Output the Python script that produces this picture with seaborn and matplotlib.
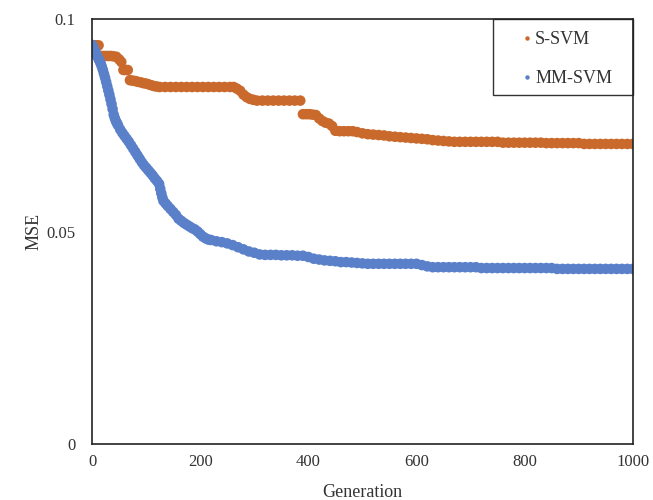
import seaborn as sns
import matplotlib.pyplot as plt
from matplotlib.patches import Rectangle
import numpy as np
import pandas as pd

# S-SVM (orange)
gen_s = [0, 4, 8, 12, 15, 20, 25, 30, 35, 40, 45, 50, 54, 58, 62, 66, 70, 75, 80, 85,
         90, 95, 100, 105, 110, 115, 120, 125, 135, 145, 155, 165, 175, 185, 195, 205,
         215, 225, 235, 245, 255, 262, 268, 274, 280, 286, 292, 298, 305, 315, 325, 335,
         345, 355, 365, 375, 385, 390, 396, 402, 408, 414, 420, 426, 432, 438, 444, 450,
         458, 466, 474, 482, 490, 500, 510, 520, 530, 540, 550, 560, 570, 580, 590, 600,
         610, 620, 630, 640, 650, 660, 670, 680, 690, 700, 710, 720, 730, 740, 750, 760,
         770, 780, 790, 800, 810, 820, 830, 840, 850, 860, 870, 880, 890, 900, 910, 920,
         930, 940, 950, 960, 970, 980, 990, 1000]
mse_s = [0.0938, 0.0938, 0.0938, 0.0938, 0.0913, 0.0913, 0.0913, 0.0913, 0.0913, 0.0912,
         0.0911, 0.0905, 0.0899, 0.0880, 0.0880, 0.0880, 0.0856, 0.0855, 0.0854, 0.0852,
         0.0851, 0.0849, 0.0848, 0.0846, 0.0844, 0.0842, 0.0841, 0.0840, 0.0840, 0.0840,
         0.0840, 0.0840, 0.0840, 0.0840, 0.0840, 0.0840, 0.0840, 0.0840, 0.0840, 0.0840,
         0.0840, 0.0840, 0.0836, 0.0831, 0.0822, 0.0816, 0.0812, 0.0810, 0.0808, 0.0808,
         0.0808, 0.0808, 0.0808, 0.0808, 0.0808, 0.0808, 0.0808, 0.0776, 0.0776, 0.0776,
         0.0775, 0.0774, 0.0766, 0.0760, 0.0756, 0.0754, 0.0748, 0.0737, 0.0736, 0.0736,
         0.0736, 0.0736, 0.0734, 0.0731, 0.0729, 0.0728, 0.0727, 0.0726, 0.0724, 0.0723,
         0.0722, 0.0721, 0.0720, 0.0719, 0.0718, 0.0717, 0.0715, 0.0714, 0.0713, 0.0712,
         0.0711, 0.0711, 0.0711, 0.0711, 0.0711, 0.0711, 0.0711, 0.0711, 0.0711, 0.0709,
         0.0709, 0.0709, 0.0709, 0.0709, 0.0709, 0.0709, 0.0709, 0.0708, 0.0708, 0.0708,
         0.0708, 0.0708, 0.0708, 0.0708, 0.0706, 0.0706, 0.0706, 0.0706, 0.0706, 0.0706,
         0.0706, 0.0706, 0.0706, 0.0706]

# MM-SVM (blue)
gen_m = [0, 2, 4, 6, 8, 10, 12, 14, 16, 18, 20, 22, 24, 26, 28, 30, 32, 34, 36, 38,
         40, 42, 44, 46, 48, 52, 56, 60, 64, 68, 72, 76, 80, 84, 88, 92, 96, 100, 104,
         108, 112, 116, 120, 124, 126, 128, 130, 132, 136, 140, 145, 150, 155, 160, 165,
         170, 175, 180, 185, 190, 195, 200, 205, 210, 215, 220, 230, 240, 250, 260, 270,
         280, 290, 300, 310, 320, 330, 340, 350, 360, 370, 380, 390, 400, 410, 420, 430,
         440, 450, 460, 470, 480, 490, 500, 510, 520, 530, 540, 550, 560, 570, 580, 590,
         600, 610, 620, 630, 640, 650, 660, 670, 680, 690, 700, 710, 720, 730, 740, 750,
         760, 770, 780, 790, 800, 810, 820, 830, 840, 850, 860, 870, 880, 890, 900, 910,
         920, 930, 940, 950, 960, 970, 980, 990, 1000]
mse_m = [0.0939, 0.0934, 0.0928, 0.0923, 0.0917, 0.0912, 0.0906, 0.0901, 0.0895, 0.0888,
         0.0880, 0.0871, 0.0862, 0.0852, 0.0842, 0.0832, 0.0822, 0.0811, 0.0800, 0.0788,
         0.0775, 0.0767, 0.0760, 0.0755, 0.0750, 0.0740, 0.0732, 0.0725, 0.0718, 0.0711,
         0.0703, 0.0695, 0.0687, 0.0679, 0.0671, 0.0663, 0.0656, 0.0650, 0.0644, 0.0638,
         0.0632, 0.0625, 0.0619, 0.0612, 0.0601, 0.0590, 0.0580, 0.0572, 0.0566, 0.0560,
         0.0553, 0.0546, 0.0539, 0.0530, 0.0525, 0.0520, 0.0516, 0.0512, 0.0508, 0.0505,
         0.0500, 0.0494, 0.0488, 0.0484, 0.0481, 0.0480, 0.0477, 0.0475, 0.0472, 0.0468,
         0.0463, 0.0458, 0.0453, 0.0450, 0.0446, 0.0445, 0.0445, 0.0445, 0.0444, 0.0444,
         0.0444, 0.0443, 0.0443, 0.0440, 0.0436, 0.0434, 0.0432, 0.0431, 0.0430, 0.0428,
         0.0428, 0.0427, 0.0426, 0.0425, 0.0424, 0.0424, 0.0424, 0.0424, 0.0424, 0.0424,
         0.0424, 0.0424, 0.0424, 0.0424, 0.0421, 0.0418, 0.0416, 0.0416, 0.0416, 0.0416,
         0.0416, 0.0416, 0.0416, 0.0416, 0.0416, 0.0414, 0.0414, 0.0414, 0.0414, 0.0414,
         0.0414, 0.0414, 0.0414, 0.0414, 0.0414, 0.0414, 0.0414, 0.0414, 0.0414, 0.0412,
         0.0412, 0.0412, 0.0412, 0.0412, 0.0412, 0.0412, 0.0412, 0.0412, 0.0412, 0.0412,
         0.0412, 0.0412, 0.0412, 0.0412]

series = ['S-SVM', 'MM-SVM']
colors = {'S-SVM': '#C96A2C', 'MM-SVM': '#5B80CA'}

df = pd.concat([
    pd.DataFrame({'Generation': gen_s, 'MSE': mse_s, 'model': series[0]}),
    pd.DataFrame({'Generation': gen_m, 'MSE': mse_m, 'model': series[1]}),
])

sns.set_theme(style='white')
plt.rcParams['font.family'] = ['Liberation Serif', 'DejaVu Serif']

fig = plt.figure(figsize=(6.53, 5.0), dpi=100)
ax = fig.add_axes([0.141, 0.112, 0.828, 0.850])

sns.scatterplot(data=df, x='Generation', y='MSE', hue='model', hue_order=series,
                palette=colors, s=58, linewidth=0, ax=ax)

ax.set_xlim(0, 1000)
ax.set_ylim(0, 0.1)
ax.set_xticks([0, 200, 400, 600, 800, 1000])
ax.set_yticks([0, 0.05, 0.1])
ax.set_yticklabels(['0', '0.05', '0.1'])
ax.tick_params(axis='both', direction='in', length=5, width=1, colors='#222222',
               labelsize=12, labelcolor='#333333')
ax.tick_params(axis='x', pad=7)
ax.tick_params(axis='y', pad=12)
for sp in ax.spines.values():
    sp.set_color('#222222')
    sp.set_linewidth(1.2)
ax.set_xlabel('Generation', fontsize=13, color='#333333', labelpad=10)
ax.set_ylabel('MSE', fontsize=13, color='#333333', labelpad=3)

# legend without its own frame; box drawn separately to match the padding
leg = ax.legend(loc='upper right', bbox_to_anchor=(0.962, 0.971), borderaxespad=0,
                borderpad=0, markerscale=0.42, fontsize=13, frameon=False,
                labelspacing=1.2, handletextpad=0.15, handlelength=0.6, title=None)
for t in leg.get_texts():
    t.set_color('#333333')
ax.add_patch(Rectangle((0.741, 0.821), 0.259, 0.179, transform=ax.transAxes,
                       fill=False, edgecolor='#333333', linewidth=1.0, clip_on=False))

fig.savefig('out.png', dpi=100)
